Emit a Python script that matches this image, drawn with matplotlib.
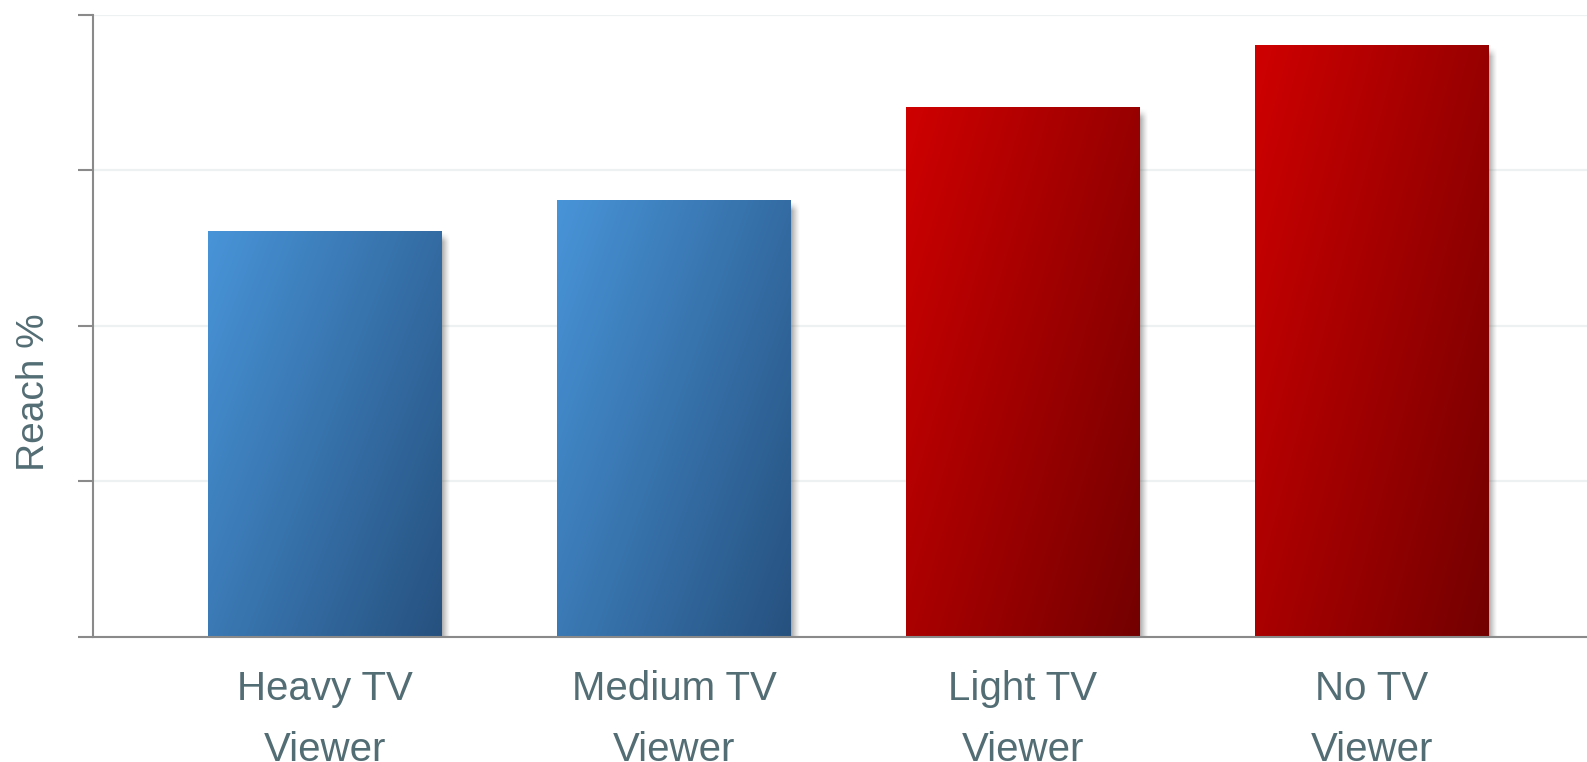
import numpy as np
import matplotlib
matplotlib.use("Agg")
import matplotlib.pyplot as plt
from matplotlib.colors import to_rgb

# Data
categories = ["Heavy TV\nViewer", "Medium TV\nViewer", "Light TV\nViewer", "No TV\nViewer"]
reach = [65.2, 70.2, 85.1, 95.1]
groups = ["blue", "blue", "red", "red"]
y_ticks = [0, 25, 50, 75, 100]

gradients = {
    "blue": ("#4894d8", "#26517f"),
    "red": ("#cf0000", "#730000"),
}
text_color = "#536d74"
axis_color = "#8a8a8a"
grid_color = "#eef1f1"
font = ["Liberation Sans Narrow", "Liberation Sans", "DejaVu Sans"]

W, H = 1587, 762
fig = plt.figure(figsize=(W / 100, H / 100), dpi=100)
ax_left, ax_right, ax_top, ax_bottom = 93, 1587, 14.5, 637
ax = fig.add_axes([ax_left / W, 1 - ax_bottom / H,
                   (ax_right - ax_left) / W, (ax_bottom - ax_top) / H])

xlim = (-0.665, 3.616)
ylim = (0, 100)
bar_w = 0.67
x = np.arange(len(categories))

# Pixels per data unit (for shadow sizing)
xppu = (ax_right - ax_left) / (xlim[1] - xlim[0])
yppu = (ax_bottom - ax_top) / (ylim[1] - ylim[0])

bars = ax.bar(x, reach, width=bar_w, color="none", edgecolor="none", zorder=3)

for rect, grp in zip(bars, groups):
    x0, w, h = rect.get_x(), rect.get_width(), rect.get_height()
    x1 = x0 + w

    # soft drop shadow to the right of each bar
    off_x, off_y, blur = 4 / xppu, 5 / yppu, 9.0
    sx0, sx1 = x1 - 12 / xppu, x1 + 18 / xppu
    sy0, sy1 = 0, h + 8 / yppu
    nx, ny = 60, 200
    gx = np.linspace(sx0, sx1, nx)
    gy = np.linspace(sy1, sy0, ny)
    GX, GY = np.meshgrid(gx, gy)
    dxp = ((x1 + off_x) - GX) * xppu
    dyp = ((h - off_y) - GY) * yppu
    ax_a = np.clip(dxp / blur + 0.5, 0, 1)
    ay_a = np.clip(dyp / blur + 0.5, 0, 1)
    alpha = (ax_a * ay_a) ** 1.3 * 0.55
    shadow = np.zeros((ny, nx, 4))
    shadow[..., :3] = 0.35
    shadow[..., 3] = alpha
    ax.imshow(shadow, extent=[sx0, sx1, sy0, sy1], aspect="auto",
              interpolation="bilinear", zorder=2)

    # diagonal gradient fill
    c0 = np.array(to_rgb(gradients[grp][0]))
    c1 = np.array(to_rgb(gradients[grp][1]))
    u = np.linspace(0, 1, 100)[None, :]
    v = np.linspace(0, 1, 200)[:, None]
    t = np.clip(0.6 * u + 0.4 * v, 0, 1)
    img = c0 + (c1 - c0) * t[..., None]
    im = ax.imshow(img, extent=[x0, x1, 0, h], aspect="auto",
                   interpolation="bilinear", zorder=3)
    im.set_clip_path(rect)

ax.set_xlim(*xlim)
ax.set_ylim(*ylim)

ax.set_yticks(y_ticks)
ax.set_yticklabels([])
ax.yaxis.grid(True, color=grid_color, linewidth=1.6, zorder=0)
ax.set_axisbelow(True)

ax.set_xticks(x)
ax.set_xticklabels(categories, fontsize=29, color=text_color, family=font,
                   linespacing=1.75)
ax.tick_params(axis="x", length=0, pad=24)
ax.tick_params(axis="y", length=11, width=1.5, color=axis_color, direction="out")

for s in ("top", "right"):
    ax.spines[s].set_visible(False)
for s in ("left", "bottom"):
    ax.spines[s].set_color(axis_color)
    ax.spines[s].set_linewidth(1.5)
    ax.spines[s].set_zorder(5)

fig.text(34 / W, 1 - 392 / H, "Reach %", rotation=90, ha="center", va="center",
         fontsize=28, color=text_color, family=font)

fig.savefig("out.png", dpi=100)
